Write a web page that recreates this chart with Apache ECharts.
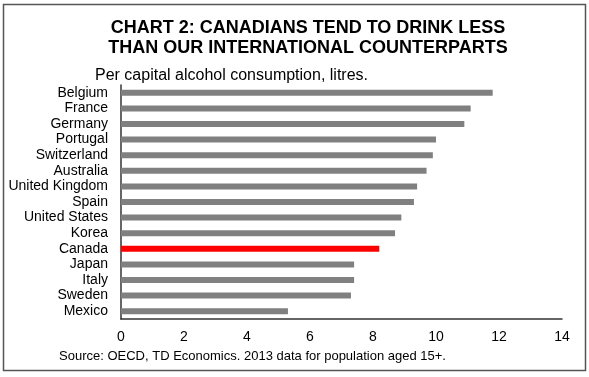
<!DOCTYPE html>
<html>
<head>
<meta charset="utf-8">
<script src="https://cdn.jsdelivr.net/npm/echarts@6/dist/echarts.min.js"></script>
<style>
  html, body { margin: 0; padding: 0; background: #fff; }
  #chart { width: 589px; height: 377px; }
</style>
</head>
<body>
<div id="chart"></div>
<script>
// countries, top to bottom as in the picture
const countries = ['Belgium', 'France', 'Germany', 'Portugal', 'Switzerland', 'Australia',
  'United Kingdom', 'Spain', 'United States', 'Korea', 'Canada', 'Japan', 'Italy', 'Sweden', 'Mexico'];
// litres per capita
const litres = [11.8, 11.1, 10.9, 10.0, 9.9, 9.7, 9.4, 9.3, 8.9, 8.7, 8.2, 7.4, 7.4, 7.3, 5.3];
const xTicks = [0, 2, 4, 6, 8, 10, 12, 14];
const highlight = 'Canada';

const chart = echarts.init(document.getElementById('chart'));

const option = {
  animation: false,
  textStyle: { fontFamily: 'Liberation Sans, Arial, sans-serif' },
  graphic: [
    {
      type: 'rect',
      shape: { x: 3.5, y: 4.5, width: 582, height: 366 },
      style: { fill: 'none', stroke: '#555', lineWidth: 1.5 }
    },
    {
      type: 'text', x: 308, y: 28, style: {
        text: 'CHART 2: CANADIANS TEND TO DRINK LESS', align: 'center', verticalAlign: 'middle',
        font: 'bold 18px "Liberation Sans", Arial', fill: '#000'
      }
    },
    {
      type: 'text', x: 308, y: 48, style: {
        text: 'THAN OUR INTERNATIONAL COUNTERPARTS', align: 'center', verticalAlign: 'middle',
        font: 'bold 18px "Liberation Sans", Arial', fill: '#000'
      }
    },
    {
      type: 'text', x: 95, y: 76, style: {
        text: 'Per capital alcohol consumption, litres.', align: 'left', verticalAlign: 'middle',
        font: '16px "Liberation Sans", Arial', fill: '#000'
      }
    },
    {
      type: 'text', x: 59, y: 356, style: {
        text: 'Source: OECD, TD Economics. 2013 data for population aged 15+.', align: 'left', verticalAlign: 'middle',
        font: '13px "Liberation Sans", Arial', fill: '#000'
      }
    }
  ],
  grid: { left: 121, right: 27, top: 85, bottom: 58, containLabel: false },
  xAxis: {
    type: 'value',
    min: xTicks[0],
    max: xTicks[xTicks.length - 1],
    interval: 2,
    splitLine: { show: false },
    axisTick: { show: false },
    axisLine: { show: true, lineStyle: { color: '#333', width: 1.5 } },
    axisLabel: { color: '#000', fontSize: 14, margin: 11 }
  },
  yAxis: {
    type: 'category',
    data: countries,
    inverse: true,
    axisTick: { show: false },
    axisLine: { show: true, lineStyle: { color: '#333', width: 1.5 } },
    axisLabel: { color: '#000', fontSize: 14, margin: 13, interval: 0 }
  },
  series: [{
    type: 'bar',
    barWidth: 6,
    data: litres.map((v, i) => ({
      value: v,
      itemStyle: { color: countries[i] === highlight ? '#ff0000' : '#808080' }
    }))
  }]
};

chart.setOption(option);
</script>
</body>
</html>
